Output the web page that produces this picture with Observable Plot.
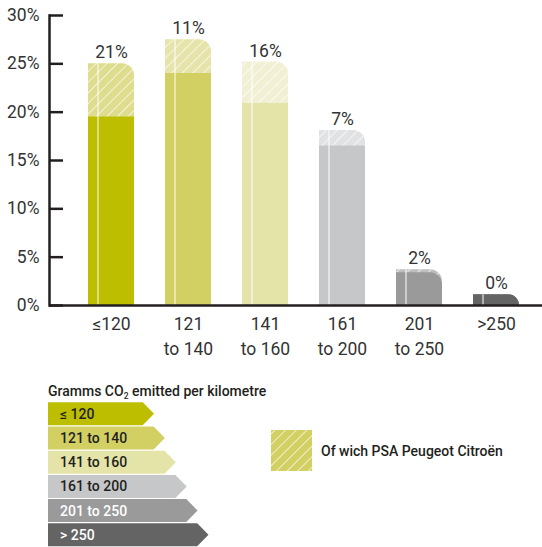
<!DOCTYPE html>
<html><head><meta charset="utf-8">
<script src="https://cdn.jsdelivr.net/npm/d3@7"></script>
<script src="https://cdn.jsdelivr.net/npm/@observablehq/plot@0.6"></script>
<style>
body{margin:0;background:#fff;}
#chart{width:542px;height:547px;position:relative;overflow:hidden;}
#chart svg{display:block;}
</style></head><body><div id="chart"></div>
<script>
// ---- data ----
const categories = ["≤120", "121 to 140", "141 to 160", "161 to 200", "201 to 250", ">250"];
const tickLabels = ["≤120", "121\nto 140", "141\nto 160", "161\nto 200", "201\nto 250", ">250"];
const legendLabels = ["≤ 120", "121 to 140", "141 to 160", "161 to 200", "201 to 250", "> 250"];
const totalShare = [25.0, 27.5, 25.2, 18.1, 3.7, 1.1];   // % of all cars in the band
const psaPart = [5.5, 3.5, 4.3, 1.6, 0.3, 0];            // of which PSA (percentage points)
const psaLabels = ["21%", "11%", "16%", "7%", "2%", "0%"];
const solidColors = ["#BDBE00", "#D3D063", "#E5E4A8", "#C6C7C9", "#9A9A9A", "#646464"];
const lightColors = ["#DEDC8D", "#E6E4AA", "#F1F0D5", "#E1E2E3", "#BEBEBE", "#9A9A9A"];
const legendText = ["#231F20", "#231F20", "#231F20", "#231F20", "#ffffff", "#ffffff"];
const yTicks = [0, 5, 10, 15, 20, 25, 30];

const rows = categories.map((c, i) => ({
  cat: c, total: totalShare[i], psa: psaPart[i], other: totalShare[i] - psaPart[i],
  label: psaLabels[i], solid: solidColors[i], light: lightColors[i]
}));

const W = 542, H = 365;
const ink = "#231F20";

const plot = Plot.plot({
  width: W, height: H,
  marginLeft: 49, marginRight: 0, marginTop: 15, marginBottom: 60,
  style: {fontFamily: "Roboto, 'Liberation Sans', sans-serif", fontSize: "17px", color: "#333", background: "#fff"},
  x: {domain: categories, range: [49, 558.5], paddingInner: 0.406, paddingOuter: 0.49, label: null},
  y: {domain: [0, 30], label: null},
  color: {type: "identity"},
  marks: [
    Plot.barY(rows, {x: "cat", y: "total", fill: "light", rx2y1: 12}),
    Plot.barY(rows, {x: "cat", y: "total", fill: "url(#psa-hatch)", rx2y1: 12}),
    Plot.barY(rows, {filter: d => d.psa >= 1, x: "cat", y: "other", fill: "solid"}),
    Plot.barY(rows, {filter: d => d.psa < 1, x: "cat", y: "other", fill: "solid", rx2y1: 12}),
    Plot.ruleX(rows, {x: "cat", y1: 0, y2: "total", stroke: "white", strokeWidth: 1, dx: -13.5}),
    Plot.text(rows, {x: "cat", y: "total", text: "label", dy: -11, fontSize: 17.5, fill: "#333"}),
    Plot.tickY(yTicks, {y: d => d, insetRight: W - 49 - 14, stroke: ink, strokeWidth: 2.5}),
    Plot.axisY({ticks: yTicks, tickSize: 0, tickPadding: 10, tickFormat: d => d + "%", fontSize: 17.5, fill: "#333"}),
    Plot.axisX({tickSize: 0, tickPadding: 6, lineHeight: 1.45, fontSize: 17.5, fill: "#333",
      tickFormat: d => tickLabels[categories.indexOf(d)]}),
    Plot.ruleY([0], {stroke: ink, strokeWidth: 2.5}),
    Plot.frame({anchor: "left", stroke: ink, strokeWidth: 2.5})
  ]
});

function addHatch(svgSel, id, period) {
  const defs = svgSel.insert("defs", ":first-child");
  const pat = defs.append("pattern").attr("id", id).attr("patternUnits", "userSpaceOnUse")
    .attr("width", period).attr("height", period).attr("patternTransform", "rotate(45)");
  pat.append("line").attr("x1", 0).attr("y1", -1).attr("x2", 0).attr("y2", period + 1)
    .attr("stroke", "white").attr("stroke-width", 1.3);
}
addHatch(d3.select(plot), "psa-hatch", 7.5);

const chart = document.getElementById("chart");
chart.appendChild(plot);

// ---- legend ----
const LH = 547 - H;
const top0 = H; // page offset of legend svg
const leg = d3.create("svg").attr("width", W).attr("height", LH)
  .style("font-family", "Roboto, 'Liberation Sans', sans-serif");
addHatch(leg, "psa-hatch-legend", 7.5);

const title = leg.append("text").attr("x", 48).attr("y", 395.5 - top0)
  .attr("font-size", 14).attr("font-weight", 500).attr("fill", ink);
title.append("tspan").text("Gramms CO");
title.append("tspan").attr("font-size", 8.5).attr("dy", 3).text("2");
title.append("tspan").attr("dy", -3).text(" emitted per kilometre");

legendLabels.forEach((lab, i) => {
  const y0 = 402.3 + 24.2 * i - top0, h = 23;
  const x0 = 48, xr = 142.7 + 10.9 * i, tip = 154 + 10.9 * i;
  leg.append("path")
    .attr("d", `M${x0},${y0}H${xr}L${tip},${y0 + h / 2}L${xr},${y0 + h}H${x0}Z`)
    .attr("fill", solidColors[i]);
  leg.append("text").attr("x", 60).attr("y", y0 + h / 2).attr("dy", "0.36em")
    .attr("font-size", 14).attr("font-weight", 500).attr("fill", legendText[i]).text(lab);
});

leg.append("rect").attr("x", 271).attr("y", 430 - top0).attr("width", 41).attr("height", 41).attr("fill", solidColors[1]);
leg.append("rect").attr("x", 271).attr("y", 430 - top0).attr("width", 41).attr("height", 41).attr("fill", "url(#psa-hatch-legend)");
leg.append("text").attr("x", 321).attr("y", 450.5 - top0).attr("dy", "0.36em")
  .attr("font-size", 14).attr("font-weight", 500).attr("fill", ink).text("Of wich PSA Peugeot Citroën");

chart.appendChild(leg.node());
</script></body></html>
